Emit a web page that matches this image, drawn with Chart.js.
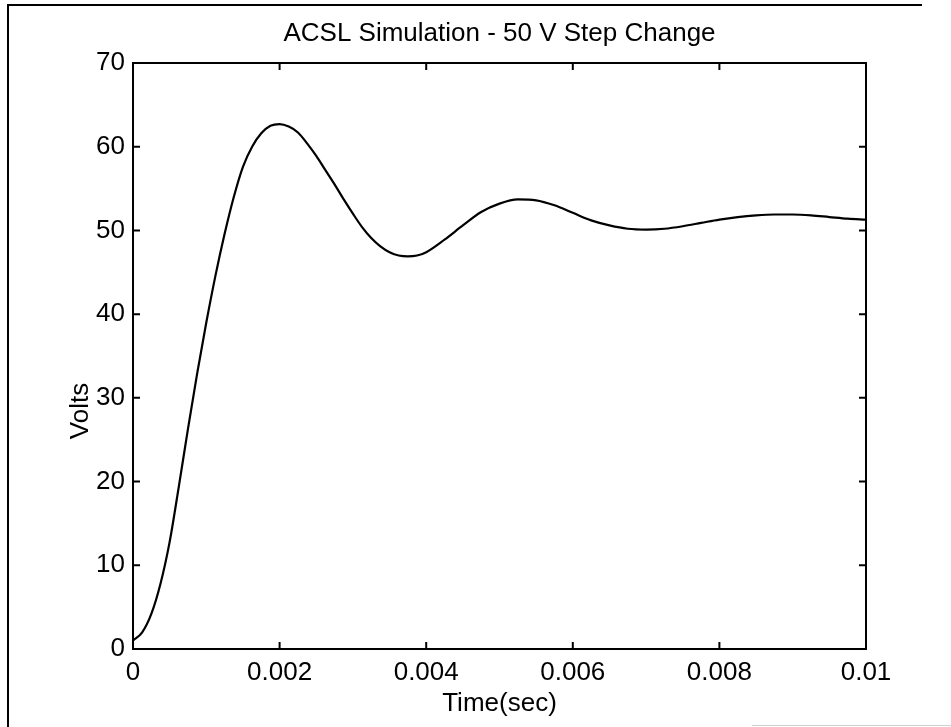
<!DOCTYPE html>
<html>
<head>
<meta charset="utf-8">
<script src="https://cdn.jsdelivr.net/npm/chart.js@4/dist/chart.umd.min.js"></script>
<style>
  html, body { margin: 0; padding: 0; background: #fff; }
  #wrap { width: 951px; height: 727px; position: relative; }
</style>
</head>
<body>
<div id="wrap"><canvas id="c" width="951" height="727"></canvas></div>
<script>
// ---- data ----
const timeSec = [0, 0.000125, 0.00025, 0.000375, 0.0005, 0.000625, 0.00075, 0.000875, 0.001,
  0.001125, 0.00125, 0.001375, 0.0015, 0.001625, 0.00175, 0.001875, 0.002,
  0.002125, 0.00225, 0.002375, 0.0025, 0.002625, 0.00275, 0.002875, 0.003,
  0.003125, 0.00325, 0.003375, 0.0035, 0.003625, 0.00375, 0.003875, 0.004,
  0.00425, 0.0045, 0.00475, 0.005, 0.00525, 0.0055, 0.00575, 0.006, 0.00625,
  0.0065, 0.00675, 0.007, 0.00725, 0.0075, 0.00775, 0.008, 0.00825, 0.0085,
  0.00875, 0.009, 0.00925, 0.0095, 0.00975, 0.01];
const volts = [1.0, 2.0, 4.2, 7.8, 12.8, 19.4, 26.3, 32.9, 39.0,
  44.6, 49.6, 54.0, 57.6, 60.0, 61.6, 62.5, 62.7,
  62.4, 61.7, 60.4, 58.9, 57.2, 55.5, 53.7, 52.0,
  50.4, 49.1, 48.1, 47.4, 47.0, 46.9, 47.0, 47.4,
  48.9, 50.6, 52.2, 53.2, 53.7, 53.6, 53.0, 52.1, 51.2,
  50.6, 50.2, 50.1, 50.2, 50.5, 50.9, 51.3, 51.6, 51.8,
  51.9, 51.9, 51.8, 51.6, 51.4, 51.3];
const xTickValues = [0, 0.002, 0.004, 0.006, 0.008, 0.01];
const xTickLabels = ["0", "0.002", "0.004", "0.006", "0.008", "0.01"];
const yTickValues = [0, 10, 20, 30, 40, 50, 60, 70];
const titleText = "ACSL Simulation - 50 V Step Change";
const xTitle = "Time(sec)";
const yTitle = "Volts";

const FONT = "'Liberation Sans', Arial, Helvetica, sans-serif";

const framePlugin = {
  id: 'frame',
  afterDatasetsDraw(chart) {
    const {ctx, chartArea: a, scales} = chart;
    ctx.save();
    ctx.strokeStyle = '#000';
    ctx.lineWidth = 2;
    ctx.strokeRect(a.left, a.top, a.right - a.left, a.bottom - a.top);
    const tl = 7;
    ctx.beginPath();
    xTickValues.forEach(v => {
      const px = scales.x.getPixelForValue(v);
      ctx.moveTo(px, a.bottom); ctx.lineTo(px, a.bottom - tl);
      ctx.moveTo(px, a.top); ctx.lineTo(px, a.top + tl);
    });
    yTickValues.forEach(v => {
      const py = scales.y.getPixelForValue(v);
      ctx.moveTo(a.left, py); ctx.lineTo(a.left + tl, py);
      ctx.moveTo(a.right, py); ctx.lineTo(a.right - tl, py);
    });
    ctx.stroke();
    ctx.restore();
  },
  afterDraw(chart) {
    const {ctx} = chart;
    ctx.save();
    ctx.fillStyle = '#000';
    ctx.font = "26px " + FONT;
    ctx.textAlign = 'center';
    ctx.textBaseline = 'middle';
    ctx.translate(81, 411);
    ctx.rotate(-Math.PI / 2);
    ctx.fillText(yTitle, 0, 0);
    ctx.restore();
    ctx.save();
    ctx.strokeStyle = '#000';
    ctx.lineWidth = 2;
    ctx.beginPath();
    ctx.moveTo(8, 727); ctx.lineTo(8, 5); ctx.lineTo(922, 5);
    ctx.stroke();
    ctx.strokeStyle = '#d0d0d0';
    ctx.lineWidth = 1;
    ctx.beginPath();
    ctx.moveTo(752, 725.5); ctx.lineTo(951, 725.5);
    ctx.stroke();
    ctx.restore();
  }
};

new Chart(document.getElementById('c'), {
  type: 'line',
  data: {
    datasets: [{
      data: timeSec.map((t, i) => ({x: t, y: volts[i]})),
      borderColor: '#000',
      borderWidth: 2.2,
      pointRadius: 0,
      fill: false,
      cubicInterpolationMode: 'monotone'
    }]
  },
  options: {
    responsive: false,
    animation: false,
    layout: { padding: { left: 0, right: 85, top: 0, bottom: 0 } },
    plugins: {
      legend: { display: false },
      tooltip: { enabled: false },
      title: {
        display: true,
        text: titleText,
        color: '#000',
        fullSize: false,
        font: { family: FONT, size: 26, weight: 'normal' },
        padding: { top: 18, bottom: 13.8 }
      }
    },
    scales: {
      x: {
        type: 'linear',
        min: 0, max: 0.01,
        afterBuildTicks(scale) { scale.ticks = xTickValues.map(v => ({value: v})); },
        afterFit(scale) { scale.height = 78; },
        grid: { display: false, drawTicks: false },
        border: { display: false },
        ticks: {
          color: '#000',
          padding: 8,
          maxRotation: 0,
          font: { family: FONT, size: 26 },
          callback: (v) => { const i = xTickValues.indexOf(v); return i >= 0 ? xTickLabels[i] : ''; }
        },
        title: {
          display: true, text: xTitle, color: '#000',
          font: { family: FONT, size: 26 },
          padding: { top: 0, bottom: 8 }
        }
      },
      y: {
        min: 0, max: 70,
        afterBuildTicks(scale) { scale.ticks = yTickValues.map(v => ({value: v})); },
        afterFit(scale) { scale.width = 133; },
        grid: { display: false, drawTicks: false },
        border: { display: false },
        ticks: {
          color: '#000',
          padding: 8,
          font: { family: FONT, size: 26 }
        }
      }
    }
  },
  plugins: [framePlugin]
});
</script>
</body>
</html>
